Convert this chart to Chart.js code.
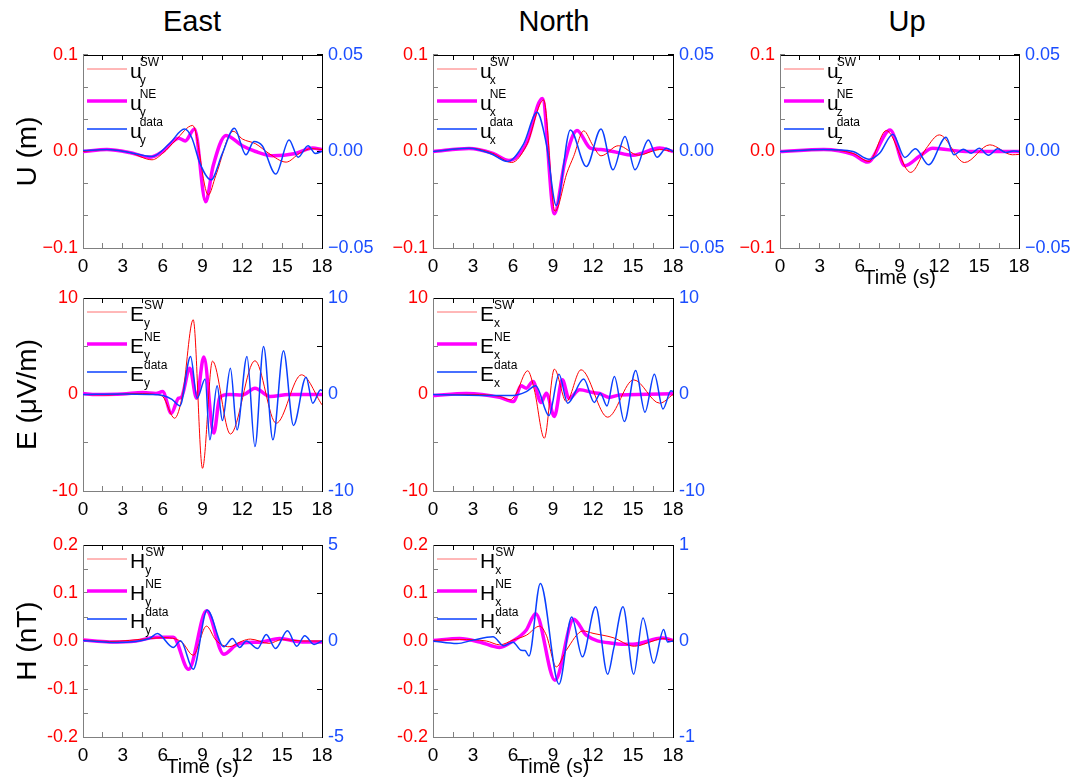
<!DOCTYPE html>
<html>
<head>
<meta charset="utf-8">
<script src="https://cdn.jsdelivr.net/npm/chart.js@4.4.1/dist/chart.umd.min.js"></script>
<style>
  body { margin: 0; background: #fff; }
  #wrap { position: relative; width: 1081px; height: 782px; overflow: hidden; font-family: 'Liberation Sans', Arial, sans-serif; }
  canvas { position: absolute; }
  .col-title { position: absolute; top: 7px; font-size: 29px; line-height: 1; width: 200px; text-align: center; color: #000; }
</style>
</head>
<body>
<div id="wrap">
  <div class="col-title" style="left:92px">East</div>
  <div class="col-title" style="left:454px">North</div>
  <div class="col-title" style="left:807px">Up</div>
  <canvas id="eastU"></canvas>
  <canvas id="northU"></canvas>
  <canvas id="upU"></canvas>
  <canvas id="eastE"></canvas>
  <canvas id="northE"></canvas>
  <canvas id="eastH"></canvas>
  <canvas id="northH"></canvas>
</div>
<script>
// time axis (s)
const timeTicks = [0, 3, 6, 9, 12, 15, 18];

// tick labels
const uLeftTicks = [-0.1, 0, 0.1];
const uLeftLabels = ['\u22120.1', '0.0', '0.1'];
const uRightTicks = [-0.05, 0, 0.05];
const uRightLabels = ['\u22120.05', '0.00', '0.05'];
const eTicks = [-10, 0, 10];
const eLabels = ['-10', '0', '10'];
const hLeftTicks = [-0.2, -0.1, 0, 0.1, 0.2];
const hLeftLabels = ['-0.2', '-0.1', '0.0', '0.1', '0.2'];
const hEastRightTicks = [-5, 0, 5];
const hEastRightLabels = ['-5', '0', '5'];
const hNorthRightTicks = [-1, 0, 1];
const hNorthRightLabels = ['-1', '0', '1'];

// U (m) - East
const eastUSW = [[0,0],[1.8,0.002],[3.5,-0.001],[5.2,-0.0086],[6,-0.002],[7,0.012],[8.26,0.027],[9.44,-0.045],[10,-0.025],[11.3,0.021],[12,0.013],[13,0.008],[14,-0.002],[15.3,-0.011],[16.3,-0.002],[17.2,0.003],[18,0.002]];
const eastUNE = [[0,0],[1.8,0.002],[3.5,-0.001],[5,-0.006],[6,0],[7.2,0.0138],[7.7,0.011],[8.4,0.0234],[9.24,-0.052],[9.8,-0.015],[10.77,0.0166],[12,0.006],[13,0],[14.3,-0.0045],[16,-0.002],[17.3,0.0035],[18,0.002]];
const eastUData = [[0,0.0005],[1.8,0.001],[3.5,-0.0005],[5.2,-0.0026],[6.5,0.004],[7.64,0.0116],[8.2,0.007],[8.8,-0.006],[9.64,-0.0147],[10.5,-0.001],[11.4,0.012],[12.27,-0.0017],[12.87,0.0052],[13.5,0.003],[14.52,-0.0117],[15.52,0.006],[16.2,-0.003],[16.95,0.003],[17.5,-0.001],[18,0]];

// U (m) - North
const northUSW = [[0,0],[2.8,0.0034],[4.5,-0.002],[5.9,-0.0114],[7,0.006],[8.3,0.0534],[9.15,-0.062],[10.05,-0.022],[10.55,-0.005],[11.3,0.0214],[12,0.006],[12.6,-0.0045],[13.9,0.006],[15.4,-0.0038],[17,0.002],[18,0]];
const northUNE = [[0,0],[2.7,0.003],[4.5,-0.002],[5.7,-0.0093],[7,0.008],[8.2,0.055],[9.1,-0.0645],[9.9,-0.01],[10.8,0.0217],[11.8,0.0035],[12.6,0.002],[13.5,0],[15,-0.004],[17,0.0035],[18,0]];
const northUData = [[0,0],[2.7,0.0017],[4.3,-0.001],[5.6,-0.0052],[6.8,0.004],[7.8,0.0203],[8.5,0.004],[9.25,-0.028],[10.3,0.0112],[11.5,-0.0078],[12.6,0.0117],[13.5,-0.0095],[14.4,0.0078],[15.15,-0.0095],[16.15,0.006],[16.8,-0.003],[17.5,0.0017],[18,0]];

// U (m) - Up
const upUSW = [[0,0],[3.3,0.002],[5.5,-0.002],[6.7,-0.0103],[8,0.0217],[9.85,-0.0217],[11,0.003],[12,0.0172],[13.9,-0.0114],[15.8,0.0069],[17.5,-0.0034],[18,-0.003]];
const upUNE = [[0,0],[3.3,0.002],[5.5,-0.003],[6.6,-0.011],[8.3,0.0224],[9.4,-0.0148],[10.5,-0.005],[11.5,0.0034],[14,0],[18,0]];
const upUData = [[0,0],[3.3,0.001],[5.5,0],[6.7,-0.004],[7.5,-0.0009],[8.5,0.009],[9.4,-0.0031],[10.2,0.0014],[11.2,-0.0069],[12.5,0.0074],[13.1,-0.0017],[13.8,0.0012],[14.4,-0.0009],[15,0.0017],[15.7,-0.0019],[16.4,0.0014],[17,-0.0005],[17.6,0.0003],[18,0]];

// E (uV/m) - East
const eastESW = [[0,0],[2,-0.05],[3.5,0.1],[4.5,0.1],[5.5,0],[6,-0.2],[6.9,-2.46],[7.5,0],[8.3,7.75],[9,-7.65],[9.75,3.46],[11.1,-4.1],[12.95,3.5],[14.55,-2.98],[16.45,2.04],[18,-1.07]];
const eastENE = [[0,0.1],[1,0],[3,0.05],[4.5,0.2],[5.5,0.1],[6,0.3],[6.65,-1.94],[7.2,-0.38],[7.4,-0.3],[8.05,2.73],[8.55,-0.38],[9.1,3.88],[9.85,-4.0],[10.3,-0.3],[11,0],[12,-0.05],[12.95,0.66],[14.1,-0.2],[15.5,0],[18,0]];
const eastEData = [[0,0],[3,0.05],[5,0],[6,-0.1],[6.7,-0.5],[7.3,-1.18],[8.1,3.94],[8.6,-0.38],[9.2,1.6],[9.55,-4.7],[10.1,0.9],[10.5,-2.7],[11.1,2.73],[11.6,-3.67],[12.35,3.94],[12.95,-5.4],[13.6,4.98],[14.3,-4.7],[15.1,4.53],[15.85,-3.2],[16.8,1.8],[17.3,-0.9],[17.9,0.48],[18,0.4]];

// E (uV/m) - North
const northESW = [[0,0],[3,0],[5,-0.2],[5.8,-0.55],[6.2,0],[7.1,2.46],[7.6,0.48],[8.35,-4.53],[9.1,2.63],[10,-0.73],[11.1,2.56],[13.1,-2.35],[15.05,1.52],[17,-0.9],[18,0]];
const northENE = [[0,-0.1],[2.5,0.1],[5,-0.3],[6.05,-0.73],[6.6,0.9],[7,0.66],[7.5,1.35],[8.1,-0.83],[8.5,0.14],[9.1,-2.28],[9.7,1.52],[10.2,-0.4],[11,0.48],[12,0.2],[12.5,0.1],[13.2,-0.3],[14,-0.05],[18,0.07]];
const northEData = [[0,0],[5,-0.1],[6,-0.1],[7,0.3],[7.7,0.9],[8.7,-2.18],[9.45,2.1],[10.1,-0.9],[11.3,1.6],[12.1,-0.83],[12.55,0.14],[13.05,-1.18],[13.6,1.87],[14.35,-2.8],[15.2,2.49],[15.9,-1.83],[16.6,2.1],[17.25,-1.49],[17.85,0.38],[18,0.3]];

// H (nT) - East
const eastHSW = [[0,0.002],[2,-0.001],[5,0.005],[6,0.007],[7,0.004],[7.5,-0.004],[8.3,-0.0296],[9.3,0.031],[10,0.002],[11,-0.012],[12,0],[12.6,0.004],[14,-0.005],[15,0.003],[16.5,0],[18,0]];
const eastHNE = [[0,0.002],[2,-0.002],[4,0],[5.5,0.008],[6.8,0.008],[7.95,-0.059],[9.3,0.063],[10.6,-0.0275],[11.5,-0.009],[12,-0.004],[13.5,-0.002],[14.8,0.005],[16.5,-0.002],[18,-0.002]];
const eastHData = [[0,0.03],[2.5,-0.08],[5,0.13],[5.6,0.39],[6.8,-0.34],[7.35,0.01],[8.3,-1.47],[9.35,1.61],[10.6,-0.3],[11.25,0.13],[11.8,-0.34],[12.3,0],[13.15,-0.39],[13.8,0.34],[14.5,-0.39],[15.4,0.53],[16.1,-0.27],[16.7,0.27],[17.4,-0.18],[18,0]];

// H (nT) - North
const northHSW = [[0,0.001],[2,0.003],[4,0],[5,-0.008],[6,0.002],[7,0.012],[8,0.031],[8.5,0.012],[9.25,-0.054],[10,-0.019],[11.25,0.021],[12,0.016],[13.5,0.007],[15.1,-0.011],[16.5,0],[17.2,0.005],[18,0.001]];
const northHNE = [[0,0.001],[2,0.005],[3.5,-0.002],[5,-0.0136],[6,0],[7,0.023],[7.7,0.057],[9.15,-0.082],[10.55,0.0455],[11.5,0.012],[13.6,-0.005],[15,-0.007],[17.2,0.006],[18,0.001]];
const northHData = [[0,0],[1.8,-0.026],[3,0.009],[4.5,0.043],[5.3,-0.05],[6,-0.012],[6.6,-0.096],[6.9,-0.1],[7.2,-0.155],[8.05,0.6],[9.45,-0.45],[10.4,0.25],[11.2,-0.165],[12.2,0.357],[13.1,-0.346],[13.55,-0.08],[14.25,0.357],[15.05,-0.346],[15.75,0.24],[16.55,-0.23],[17.3,0.12],[17.6,-0.01],[18,0]];

const FONT = "'Liberation Sans', Arial, sans-serif";
Chart.defaults.font.family = FONT;

const RED = '#ff0000', MAG = '#ff00ff', BLUE = '#0a40ff', BLUE_TXT = '#1a4dff';
const GRAY_AX = '#808080';
const TOP_PAD = 22, X_AXIS_H = 45;

// canvas placement, plot area edges from the picture
const cols = [
  { x: 0, w: 379, left: 83, right: 57 },
  { x: 378, w: 352, left: 55, right: 57 },
  { x: 728, w: 353, left: 52, right: 62 }
];
const rows = [
  { top: 55, bottom: 248 },
  { top: 298, bottom: 491 },
  { top: 545, bottom: 737 }
];

// legend with super/subscripts drawn on the canvas
const supLegend = {
  id: 'supLegend',
  afterDatasetsDraw(chart, args, opts) {
    const { ctx, chartArea } = chart;
    const L = chartArea.left, T = chartArea.top;
    const offs = [14, 46, 74];
    const items = chart.data.datasets.slice().sort((a, b) => a.rank - b.rank);
    ctx.save();
    items.forEach((ds, i) => {
      const y = T + offs[i];
      ctx.strokeStyle = ds.legendColor;
      ctx.lineWidth = ds.borderWidth;
      ctx.beginPath();
      ctx.moveTo(L + 4, y);
      ctx.lineTo(L + 44, y);
      ctx.stroke();
      ctx.fillStyle = '#000';
      ctx.textBaseline = 'alphabetic';
      ctx.textAlign = 'left';
      ctx.font = '21px ' + FONT;
      const lx = L + 47;
      ctx.fillText(opts.letter, lx, y + 9);
      const w = ctx.measureText(opts.letter).width;
      const lower = opts.letter === opts.letter.toLowerCase();
      ctx.font = '12px ' + FONT;
      ctx.fillText(ds.sup, lx + w - (lower ? 2 : 0), y - 3);
      ctx.fillText(opts.comp, lx + w - (lower ? 2 : 0), y + 15);
    });
    ctx.restore();
  }
};

function tickStep(min, max, n) {
  return s => {
    const out = [];
    for (let i = 0; i <= n; i++) out.push({ value: min + (max - min) * i / n });
    s.ticks = out;
  };
}

function labeler(vals, labels) {
  return v => {
    for (let i = 0; i < vals.length; i++) {
      if (Math.abs(vals[i] - v) < 1e-9 + Math.abs(vals[vals.length - 1]) * 1e-6) return labels[i];
    }
    return '';
  };
}

function yAxis(pos, min, max, n, vals, labels, color, width, title) {
  return {
    type: 'linear', position: pos, min: min, max: max,
    afterBuildTicks: tickStep(min, max, n),
    afterFit: s => { s.width = width; },
    ticks: {
      autoSkip: false, padding: pos === 'left' ? 10 : 11, color: color,
      font: { size: 18 }, callback: labeler(vals, labels)
    },
    grid: { drawOnChartArea: false, tickLength: -5, color: pos === 'left' ? GRAY_AX : '#000' },
    border: { color: pos === 'left' ? GRAY_AX : '#000', width: 1 },
    title: title ? { display: true, text: title, color: '#000', font: { size: 28 }, padding: { top: 11, bottom: 0 } } : { display: false }
  };
}

function makePanel(id, ci, ri, p) {
  const col = cols[ci], row = rows[ri];
  const cv = document.getElementById(id);
  cv.width = col.w;
  cv.height = (row.bottom - row.top) + TOP_PAD + X_AXIS_H;
  cv.style.left = col.x + 'px';
  cv.style.top = (row.top - TOP_PAD) + 'px';

  new Chart(cv, {
    type: 'line',
    data: {
      datasets: [
        { label: 'data', sup: 'data', rank: 2, data: p.data, yAxisID: 'y2', borderColor: BLUE, legendColor: BLUE, borderWidth: 1.5 },
        { label: 'SW', sup: 'SW', rank: 0, data: p.sw, yAxisID: 'y', borderColor: RED, legendColor: '#ff7070', borderWidth: 1 },
        { label: 'NE', sup: 'NE', rank: 1, data: p.ne, yAxisID: 'y', borderColor: MAG, legendColor: MAG, borderWidth: 3.5 }
      ]
    },
    options: {
      responsive: false,
      animation: false,
      layout: { padding: 0 },
      elements: { point: { radius: 0 }, line: { cubicInterpolationMode: 'monotone' } },
      plugins: { legend: { display: false }, tooltip: { enabled: false }, supLegend: { letter: p.letter, comp: p.comp } },
      scales: {
        x: {
          type: 'linear', position: 'bottom', min: 0, max: 18,
          afterBuildTicks: tickStep(0, 18, 12),
          afterFit: s => { s.height = X_AXIS_H; },
          ticks: { autoSkip: false, maxRotation: 0, padding: 12, color: '#000', font: { size: 19 }, callback: labeler(timeTicks, timeTicks.map(String)) },
          grid: { drawOnChartArea: false, tickLength: -5, color: GRAY_AX },
          border: { color: GRAY_AX, width: 1 },
          title: p.xTitle ? { display: true, text: 'Time (s)', color: '#000', font: { size: 20 }, padding: { top: 0, bottom: 3 } } : { display: false }
        },
        xt: {
          type: 'linear', position: 'top', min: 0, max: 18,
          afterBuildTicks: tickStep(0, 18, 12),
          afterFit: s => { s.height = TOP_PAD; },
          ticks: { display: false },
          grid: { drawOnChartArea: false, tickLength: -5, color: '#000' },
          border: { color: '#000', width: 1 }
        },
        y: yAxis('left', p.lmin, p.lmax, p.ln, p.lvals, p.llabels, RED, col.left, p.yTitle),
        y2: yAxis('right', p.rmin, p.rmax, p.rn, p.rvals, p.rlabels, BLUE_TXT, col.right, null)
      }
    },
    plugins: [supLegend]
  });
}

const uAxes = { lmin: -0.1, lmax: 0.1, ln: 6, lvals: uLeftTicks, llabels: uLeftLabels, rmin: -0.05, rmax: 0.05, rn: 6, rvals: uRightTicks, rlabels: uRightLabels, letter: 'u' };
const eAxes = { lmin: -10, lmax: 10, ln: 4, lvals: eTicks, llabels: eLabels, rmin: -10, rmax: 10, rn: 4, rvals: eTicks, rlabels: eLabels, letter: 'E' };
const hLeft = { lmin: -0.2, lmax: 0.2, ln: 8, lvals: hLeftTicks, llabels: hLeftLabels, letter: 'H' };

makePanel('eastU', 0, 0, Object.assign({}, uAxes, { comp: 'y', sw: eastUSW, ne: eastUNE, data: eastUData, yTitle: 'U (m)' }));
makePanel('northU', 1, 0, Object.assign({}, uAxes, { comp: 'x', sw: northUSW, ne: northUNE, data: northUData }));
makePanel('upU', 2, 0, Object.assign({}, uAxes, { comp: 'z', sw: upUSW, ne: upUNE, data: upUData, xTitle: true }));
makePanel('eastE', 0, 1, Object.assign({}, eAxes, { comp: 'y', sw: eastESW, ne: eastENE, data: eastEData, yTitle: 'E (\u03bcV/m)' }));
makePanel('northE', 1, 1, Object.assign({}, eAxes, { comp: 'x', sw: northESW, ne: northENE, data: northEData }));
makePanel('eastH', 0, 2, Object.assign({}, hLeft, { rmin: -5, rmax: 5, rn: 4, rvals: hEastRightTicks, rlabels: hEastRightLabels, comp: 'y', sw: eastHSW, ne: eastHNE, data: eastHData, yTitle: 'H (nT)', xTitle: true }));
makePanel('northH', 1, 2, Object.assign({}, hLeft, { rmin: -1, rmax: 1, rn: 4, rvals: hNorthRightTicks, rlabels: hNorthRightLabels, comp: 'x', sw: northHSW, ne: northHNE, data: northHData, xTitle: true }));
</script>
</body>
</html>
